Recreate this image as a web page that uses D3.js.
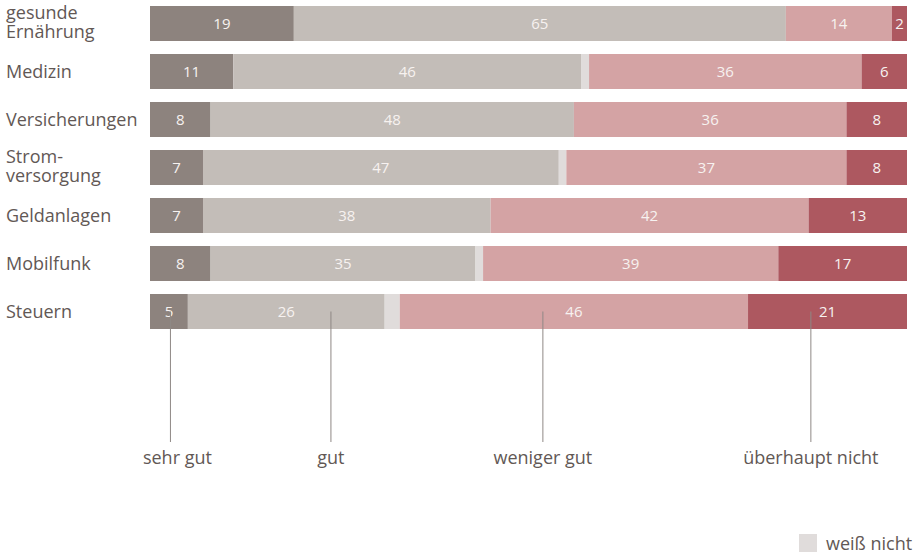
<!DOCTYPE html>
<html>
<head>
<meta charset="utf-8">
<script src="https://cdn.jsdelivr.net/npm/d3@7"></script>
<style>
  body { margin: 0; background: #fff; }
  svg { display: block; font-family: "Open Sans", sans-serif; }
</style>
</head>
<body>
<div id="chart"></div>
<script>
// data
const categories = ["gesunde\nErnährung", "Medizin", "Versicherungen", "Strom-\nversorgung", "Geldanlagen", "Mobilfunk", "Steuern"]
const sehr_gut = [19, 11, 8, 7, 7, 8, 5]
const gut = [65, 46, 48, 47, 38, 35, 26]
const weiss_nicht = [0, 1, 0, 1, 0, 1, 2]
const weniger_gut = [14, 36, 36, 37, 42, 39, 46]
const ueberhaupt_nicht = [2, 6, 8, 8, 13, 17, 21]

const keys = ["sehr gut", "gut", "weiß nicht", "weniger gut", "überhaupt nicht"]
const colors = ["#8d837e", "#c3bdb8", "#e0dcdb", "#d4a3a4", "#ad5860"]

// callouts below the last bar (position in percent)
const callout_keys = ["sehr gut", "gut", "weniger gut", "überhaupt nicht"]
const callout_at = [2.7, 23.9, 51.9, 87.3]

const width = 920, height = 555
const text_color = "#625855"

const rows = categories.map((c, i) => ({
    category: c,
    "sehr gut": sehr_gut[i],
    "gut": gut[i],
    "weiß nicht": weiss_nicht[i],
    "weniger gut": weniger_gut[i],
    "überhaupt nicht": ueberhaupt_nicht[i]
}));

const svg = d3.select("#chart")
    .append("svg")
        .attr("width", width)
        .attr("height", height);

const x = d3.scaleLinear()
    .domain([0, 100])
    .range([150, 907]);

const y = d3.scaleBand()
    .domain(categories)
    .range([6, 329])
    .paddingInner(13 / 48)
    .paddingOuter(0);

const color = d3.scaleOrdinal().domain(keys).range(colors);

const series = d3.stack().keys(keys)(rows);

// bars
const layer = svg.append("g")
    .selectAll("g")
    .data(series)
    .join("g")
        .attr("fill", d => color(d.key));

layer.selectAll("rect")
    .data(d => d)
    .join("rect")
        .attr("x", d => x(d[0]))
        .attr("y", d => y(d.data.category))
        .attr("width", d => x(d[1]) - x(d[0]))
        .attr("height", y.bandwidth());

// values inside segments
svg.append("g")
    .selectAll("g")
    .data(series.filter(s => s.key != "weiß nicht"))
    .join("g")
    .selectAll("text")
    .data(d => d.filter(v => v[1] - v[0] > 0))
    .join("text")
        .attr("x", d => (x(d[0]) + x(d[1])) / 2)
        .attr("y", d => y(d.data.category) + y.bandwidth() / 2 + 5)
        .attr("text-anchor", "middle")
        .attr("fill", "#f7f2f0")
        .style("font-size", "15px")
        .text(d => d[1] - d[0]);

// category labels
const cat = svg.append("g")
    .selectAll("text")
    .data(categories)
    .join("text")
        .attr("x", 6)
        .attr("fill", text_color)
        .style("font-size", "18px");

cat.each(function (d) {
    const lines = d.split("\n");
    const mid = y(d) + y.bandwidth() / 2;
    const el = d3.select(this);
    if (lines.length == 1) {
        el.attr("y", mid + 6.5).text(d);
    } else {
        lines.forEach((l, j) => {
            el.append("tspan")
                .attr("x", 6)
                .attr("y", mid - 5 + j * 19.5)
                .text(l);
        });
    }
});

// callouts
const last = categories[categories.length - 1];
const y_start = y(last) + y.bandwidth() / 2;
const callouts = svg.append("g")
    .selectAll("g")
    .data(callout_keys)
    .join("g");

callouts.append("line")
    .attr("x1", (d, i) => x(callout_at[i]))
    .attr("x2", (d, i) => x(callout_at[i]))
    .attr("y1", y_start)
    .attr("y2", 442)
    .attr("stroke", "#8f8885")
    .attr("stroke-width", 1);

callouts.append("text")
    .attr("x", (d, i) => x(callout_at[i]) + (i == 0 ? 7 : 0))
    .attr("y", 464)
    .attr("text-anchor", "middle")
    .attr("fill", text_color)
    .style("font-size", "18px")
    .text(d => d);

// legend
svg.append("rect")
    .attr("x", 799)
    .attr("y", 534)
    .attr("width", 18)
    .attr("height", 18)
    .attr("fill", color("weiß nicht"));

svg.append("text")
    .attr("x", 826)
    .attr("y", 550)
    .attr("fill", text_color)
    .style("font-size", "18px")
    .text("weiß nicht");
</script>
</body>
</html>
